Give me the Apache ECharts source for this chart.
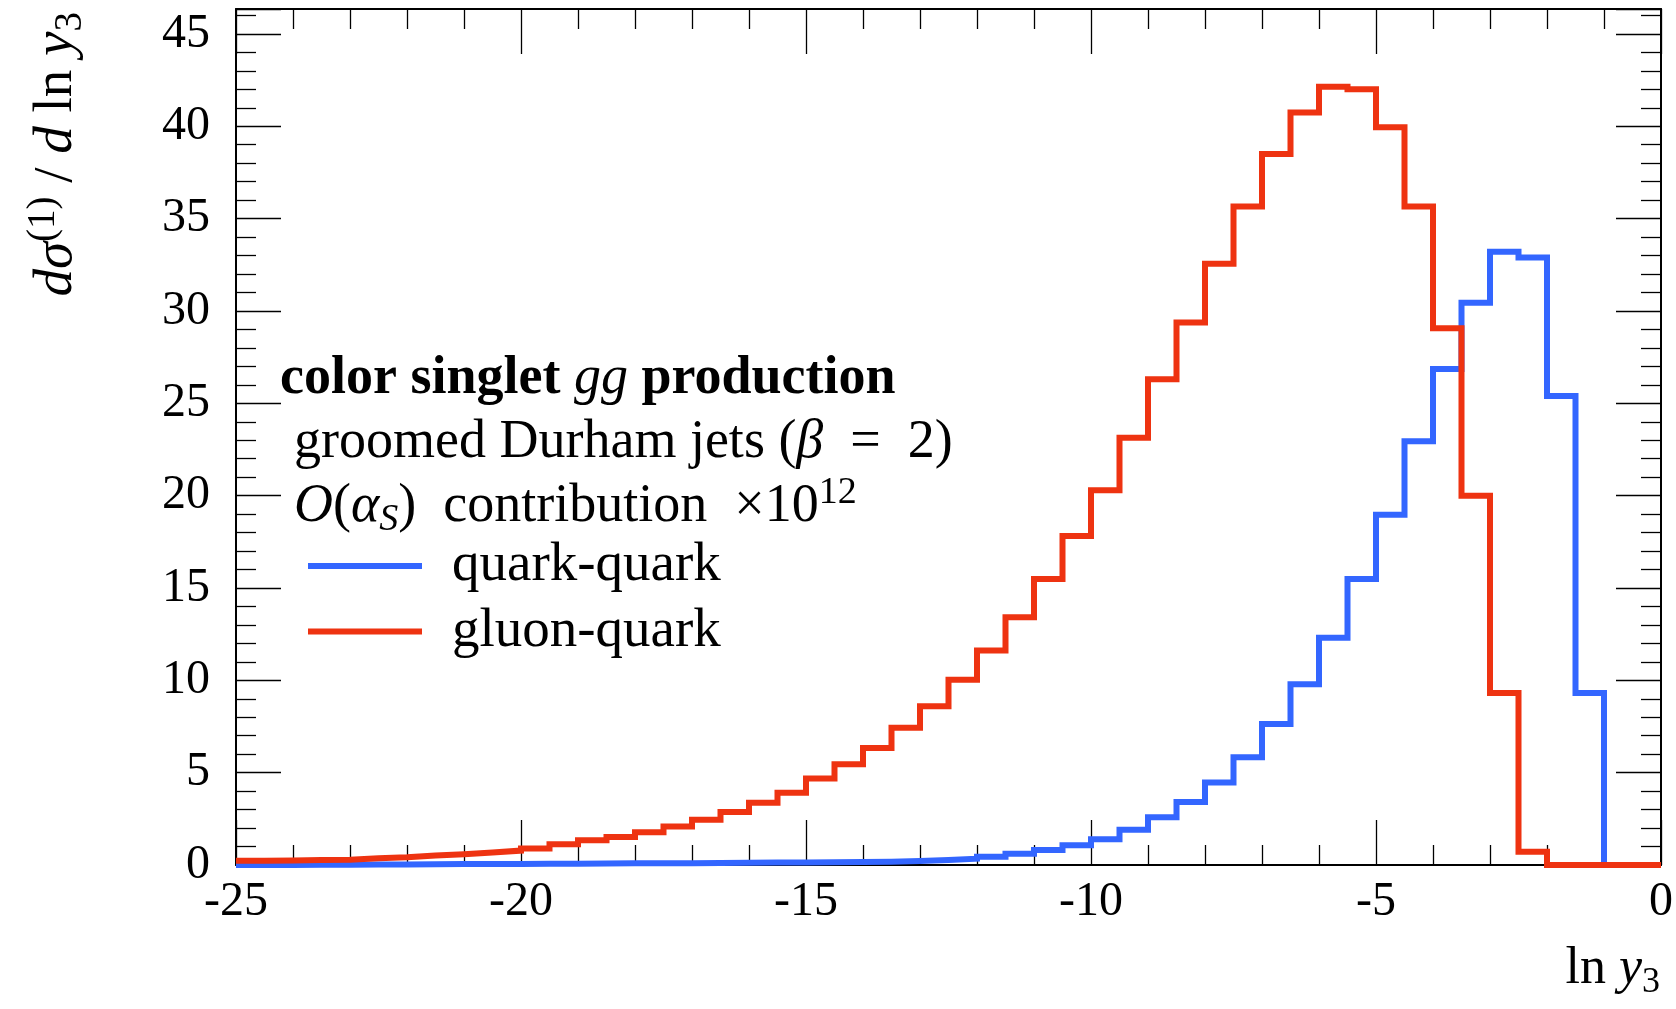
<!DOCTYPE html>
<html>
<head>
<meta charset="utf-8">
<script src="https://cdn.jsdelivr.net/npm/echarts@6.0.0/dist/echarts.min.js"></script>
<style>
  html, body { margin: 0; padding: 0; background: #fff; }
  #chart { width: 1676px; height: 1009px; }
</style>
</head>
<body>
<div id="chart"></div>
<script>
// bin edges in ln y3 (bins of width 0.5)
const binEdges = [
  -25, -24.5, -24, -23.5, -23, -22.5, -22, -21.5, -21, -20.5,
  -20, -19.5, -19, -18.5, -18, -17.5, -17, -16.5, -16, -15.5,
  -15, -14.5, -14, -13.5, -13, -12.5, -12, -11.5, -11, -10.5,
  -10, -9.5, -9, -8.5, -8, -7.5, -7, -6.5, -6, -5.5,
  -5, -4.5, -4, -3.5, -3, -2.5, -2, -1.5, -1, -0.5, 0
];

// bin contents
const quarkQuark = [
  0.0, 0.0, 0.01, 0.02, 0.03, 0.03, 0.04, 0.05, 0.05, 0.06,
  0.07, 0.07, 0.08, 0.09, 0.1, 0.1, 0.11, 0.12, 0.13, 0.14,
  0.15, 0.16, 0.18, 0.22, 0.27, 0.34, 0.45, 0.61, 0.81, 1.07,
  1.39, 1.91, 2.58, 3.41, 4.47, 5.84, 7.63, 9.79, 12.3, 15.48,
  18.97, 22.94, 26.86, 30.45, 33.2, 32.9, 25.4, 9.31, 0, 0
];
const gluonQuark = [
  0.23, 0.24, 0.27, 0.29, 0.37, 0.42, 0.51, 0.58, 0.68, 0.78,
  0.89, 1.12, 1.34, 1.52, 1.78, 2.09, 2.45, 2.87, 3.37, 3.91,
  4.69, 5.45, 6.33, 7.43, 8.6, 10.03, 11.62, 13.42, 15.49, 17.82,
  20.29, 23.14, 26.3, 29.38, 32.56, 35.66, 38.5, 40.75, 42.14, 42.0,
  39.95, 35.66, 29.06, 20.0, 9.32, 0.72, 0, 0, 0, 0
];

const xTickLabels = [-25, -20, -15, -10, -5, 0];
const yTickLabels = [0, 5, 10, 15, 20, 25, 30, 35, 40, 45];

const SERIF = '"Liberation Serif", "DejaVu Serif", serif';
const BLUE = '#3366ff';
const RED = '#ee3311';

// histogram -> points for a step line; the last edge closes the final bin
function toSteps(vals) {
  return binEdges.map((e, i) => [e, vals[Math.min(i, vals.length - 1)]]);
}

const frameLine = { show: true, onZero: false, lineStyle: { color: '#000', width: 2 } };
const tickStyle = { color: '#000', width: 1.3 };

function xAxisAt(pos) {
  return {
    type: 'value', position: pos, min: -25, max: 0, interval: 5,
    axisLine: frameLine,
    axisTick: { show: true, inside: true, length: 45, lineStyle: tickStyle },
    minorTick: { show: true, splitNumber: 5, length: 20, lineStyle: tickStyle },
    splitLine: { show: false },
    axisLabel: {
      show: pos === 'bottom', margin: 13,
      fontFamily: SERIF, fontSize: 48, color: '#000',
      formatter: v => xTickLabels.includes(v) ? String(v) : ''
    }
  };
}

function yAxisAt(pos) {
  return {
    type: 'value', position: pos, min: 0, max: 46.35, interval: 5,
    axisLine: frameLine,
    axisTick: { show: true, inside: true, length: 45, lineStyle: tickStyle },
    minorTick: { show: true, splitNumber: 5, length: 20, lineStyle: tickStyle },
    splitLine: { show: false },
    axisLabel: {
      show: pos === 'left', margin: 26, showMaxLabel: false,
      fontFamily: SERIF, fontSize: 48, color: '#000',
      formatter: v => yTickLabels.includes(v) ? String(v) : ''
    }
  };
}

// rich text styles for the math-ish labels
function richStyles(size) {
  const small = Math.round(size * 0.7);
  return {
    n: { fontFamily: SERIF, fontSize: size, color: '#000' },
    b: { fontFamily: SERIF, fontSize: size, fontWeight: 'bold', color: '#000' },
    i: { fontFamily: SERIF, fontSize: size, fontStyle: 'italic', color: '#000' },
    sup: { fontFamily: SERIF, fontSize: small, color: '#000', padding: [0, 0, 27, 0] },
    sub: { fontFamily: SERIF, fontSize: small, color: '#000', padding: [27, 0, 0, 0] },
    isub: { fontFamily: SERIF, fontSize: small, fontStyle: 'italic', color: '#000', padding: [27, 0, 0, 0] }
  };
}

const chart = echarts.init(document.getElementById('chart'));
chart.setOption({
  animation: false,
  backgroundColor: '#fff',
  grid: { left: 236, right: 13, top: 9, bottom: 144 },
  xAxis: [xAxisAt('bottom'), xAxisAt('top')],
  yAxis: [yAxisAt('left'), yAxisAt('right')],
  legend: {
    orient: 'vertical', left: 303, top: 530,
    icon: 'rect', itemWidth: 114, itemHeight: 6, itemGap: 3.5,
    data: ['quark-quark', 'gluon-quark'],
    textStyle: { fontFamily: SERIF, fontSize: 55, color: '#000', lineHeight: 52, padding: [10, 0, 0, 25] }
  },
  series: [
    {
      name: 'quark-quark', type: 'line', step: 'end', symbol: 'none',
      data: toSteps(quarkQuark), color: BLUE, z: 3,
      lineStyle: { width: 6, color: BLUE, join: 'miter', cap: 'butt' }
    },
    {
      name: 'gluon-quark', type: 'line', step: 'end', symbol: 'none',
      data: toSteps(gluonQuark), color: RED, z: 4,
      lineStyle: { width: 6, color: RED, join: 'miter', cap: 'butt' }
    }
  ],
  graphic: [
    {
      type: 'text', x: 280, y: 379,
      style: { text: '{b|color singlet }{i|gg}{b| production}', verticalAlign: 'middle', rich: richStyles(54) }
    },
    {
      type: 'text', x: 294, y: 443,
      style: { text: '{n|groomed Durham jets (}{i|β}{n|\u2002=\u20022)}', verticalAlign: 'middle', rich: richStyles(54) }
    },
    {
      type: 'text', x: 294, y: 507,
      style: { text: '{i|O}{n|(}{i|α}{isub|S}{n|)\u2002contribution\u2002×10}{sup|12}', verticalAlign: 'middle', rich: richStyles(54) }
    },
    {
      // x axis title
      type: 'text', x: 1660, y: 969,
      style: { text: '{n|ln }{i|y}{sub|3}', align: 'right', verticalAlign: 'middle', rich: richStyles(52) }
    },
    {
      // y axis title, reads upwards
      type: 'text', x: 57, y: 12, rotation: Math.PI / 2,
      style: { text: '{i|dσ}{sup|(1)}{n| / }{i|d}{n| ln }{i|y}{sub|3}', align: 'right', verticalAlign: 'middle', rich: richStyles(55) }
    }
  ]
});
</script>
</body>
</html>
